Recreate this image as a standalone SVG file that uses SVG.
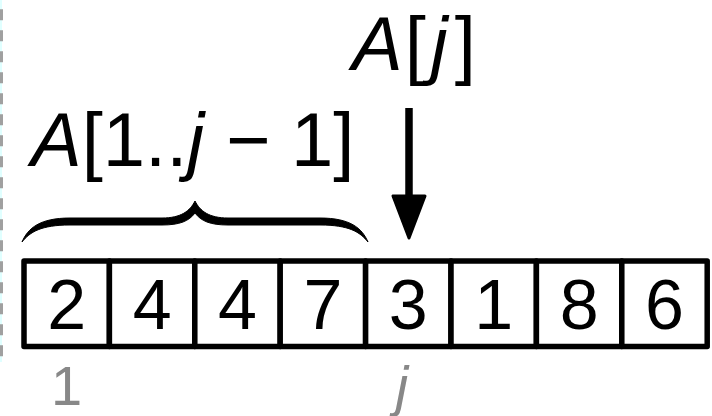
<svg xmlns="http://www.w3.org/2000/svg" width="712" height="416" viewBox="0 0 712 416">
  <style>
    .lbl { font-family: "Liberation Sans", Arial, sans-serif; font-size: 76px; fill: #000; }
    .it { font-style: italic; }
    .cell { fill: #fff; stroke: #000; stroke-width: 5.5; stroke-linejoin: round; }
    .num { font-family: "Liberation Sans", Arial, sans-serif; font-size: 70px; fill: #000; text-anchor: middle; }
    .idx { font-family: "Liberation Sans", Arial, sans-serif; font-size: 56px; fill: #888; }
  </style>
  <rect width="712" height="416" fill="#fff"/>
  <g id="margin">
    <line x1="1" y1="0" x2="1" y2="362" stroke="#e0ffff" stroke-width="2"/>
    <line x1="1.5" y1="0" x2="1.5" y2="362" stroke="#a0a0a0" stroke-width="3" stroke-dasharray="11 10" stroke-dashoffset="11.7"/>
  </g>
  <g id="label-prefix">
    <text class="lbl" x="31" y="166"><tspan class="it">A</tspan>[1..<tspan class="it">j</tspan><tspan x="226">−</tspan><tspan x="291">1]</tspan></text>
  </g>
  <g id="label-aj">
    <text class="lbl" x="352" y="70"><tspan class="it">A</tspan><tspan dx="2">[</tspan><tspan class="it" dx="5">j</tspan><tspan dx="7">]</tspan></text>
  </g>
  <g id="brace">
    <path d="M22,242 C28,228 40,218 70,218 L162,218 C181,218 190,211 195,201 C200,211 209,218 228,218 L320,218 C350,218 362,228 368,242 C360,232 349,225 320,225 L228,225 C210,225 201,221 195,213 C189,221 180,225 162,225 L70,225 C41,225 30,232 22,242 Z" fill="#000" stroke="#000" stroke-width="1" stroke-linejoin="round"/>
  </g>
  <g id="array">
    <g id="cell1"><rect class="cell" x="24" y="261" width="85.4" height="85.6"/><text class="num" x="66.7" y="328.5">2</text></g>
    <g id="cell2"><rect class="cell" x="109.4" y="261" width="85.4" height="85.6"/><text class="num" x="152.1" y="328.5">4</text></g>
    <g id="cell3"><rect class="cell" x="194.8" y="261" width="85.4" height="85.6"/><text class="num" x="237.5" y="328.5">4</text></g>
    <g id="cell4"><rect class="cell" x="280.2" y="261" width="85.4" height="85.6"/><text class="num" x="322.9" y="328.5">7</text></g>
    <g id="cell5"><rect class="cell" x="365.6" y="261" width="85.4" height="85.6"/><text class="num" x="408.3" y="328.5">3</text></g>
    <g id="cell6"><rect class="cell" x="451" y="261" width="85.4" height="85.6"/><text class="num" x="493.7" y="328.5">1</text></g>
    <g id="cell7"><rect class="cell" x="536.4" y="261" width="85.4" height="85.6"/><text class="num" x="579.1" y="328.5">8</text></g>
    <g id="cell8"><rect class="cell" x="621.8" y="261" width="85.4" height="85.6"/><text class="num" x="664.5" y="328.5">6</text></g>
  </g>
  <g id="index-1"><text class="idx" x="66.7" y="405" text-anchor="middle">1</text></g>
  <g id="index-j"><text class="idx it" x="402" y="405" text-anchor="middle">j</text></g>
  <g id="connectors">
    <line x1="409" y1="108" x2="409" y2="200" stroke="#000" stroke-width="7.5"/>
    <path d="M393,196 L425,196 L409,238 Z" fill="#000" stroke="#000" stroke-width="3" stroke-linejoin="round"/>
  </g>
</svg>
